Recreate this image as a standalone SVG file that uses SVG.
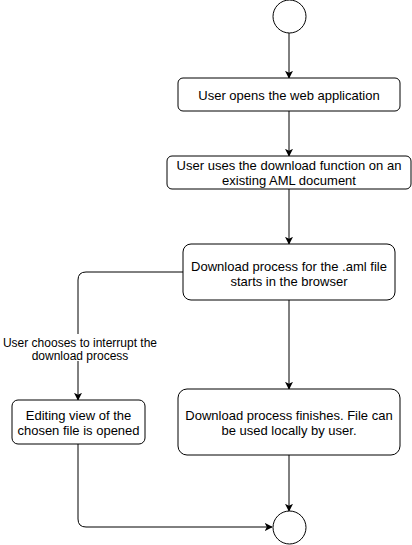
<svg xmlns="http://www.w3.org/2000/svg" width="412" height="545" viewBox="0 0 412 545">
<style>
.n{fill:#fff;stroke:#000;stroke-width:1}
.t{font-family:"Liberation Sans",Arial,sans-serif;font-size:13px;fill:#000;text-anchor:middle}
.l{font-size:12px}
.c{fill:none;stroke:#000;stroke-width:1}
</style>
<defs>
<marker id="a" viewBox="0 0 10 10" refX="9" refY="5" markerWidth="8" markerHeight="8" orient="auto" markerUnits="userSpaceOnUse">
<path d="M0,0 L10,5 L0,10 L2.5,5 Z" fill="#000"/>
</marker>
</defs>
<rect width="412" height="545" fill="#fff"/>
<g id="connectors">
<path class="c" d="M289,33 V78" marker-end="url(#a)"/>
<path class="c" d="M289,111 V156" marker-end="url(#a)"/>
<path class="c" d="M289,189 V244" marker-end="url(#a)"/>
<path class="c" d="M289,300 V389" marker-end="url(#a)"/>
<path class="c" d="M289,455 V511" marker-end="url(#a)"/>
<path class="c" d="M183,272 H86 Q78,272 78,280 V400" marker-end="url(#a)"/>
<path class="c" d="M78,444 V519 Q78,527 86,527 H272" marker-end="url(#a)"/>
<g id="label">
<rect x="2" y="334" width="156" height="27" fill="#fff"/>
<text class="t l" x="80" y="347">User chooses to interrupt the</text>
<text class="t l" x="80" y="360">download process</text>
</g>
</g>
<g id="start"><circle class="n" cx="289.5" cy="16.5" r="16.5"/></g>
<g id="n1"><rect class="n" x="178" y="78" width="222" height="33" rx="5"/>
<text class="t" x="289" y="99.5">User opens the web application</text></g>
<g id="n2"><rect class="n" x="167" y="156" width="244" height="33" rx="5"/>
<text class="t" x="289" y="169.5">User uses the download function on an</text>
<text class="t" x="289" y="185">existing AML document</text></g>
<g id="n3"><rect class="n" x="183" y="244" width="212" height="56" rx="8"/>
<text class="t" x="289" y="270.5">Download process for the .aml file</text>
<text class="t" x="289" y="286">starts in the browser</text></g>
<g id="n4"><rect class="n" x="12" y="400" width="133" height="44" rx="6"/>
<text class="t" x="78.5" y="419.5">Editing view of the</text>
<text class="t" x="78.5" y="435">chosen file is opened</text></g>
<g id="n5"><rect class="n" x="178" y="389" width="222" height="66" rx="9"/>
<text class="t" x="289" y="419.5">Download process finishes. File can</text>
<text class="t" x="289" y="435">be used locally by user.</text></g>
<g id="end"><circle class="n" cx="289.5" cy="527.5" r="16.5"/></g>
</svg>
